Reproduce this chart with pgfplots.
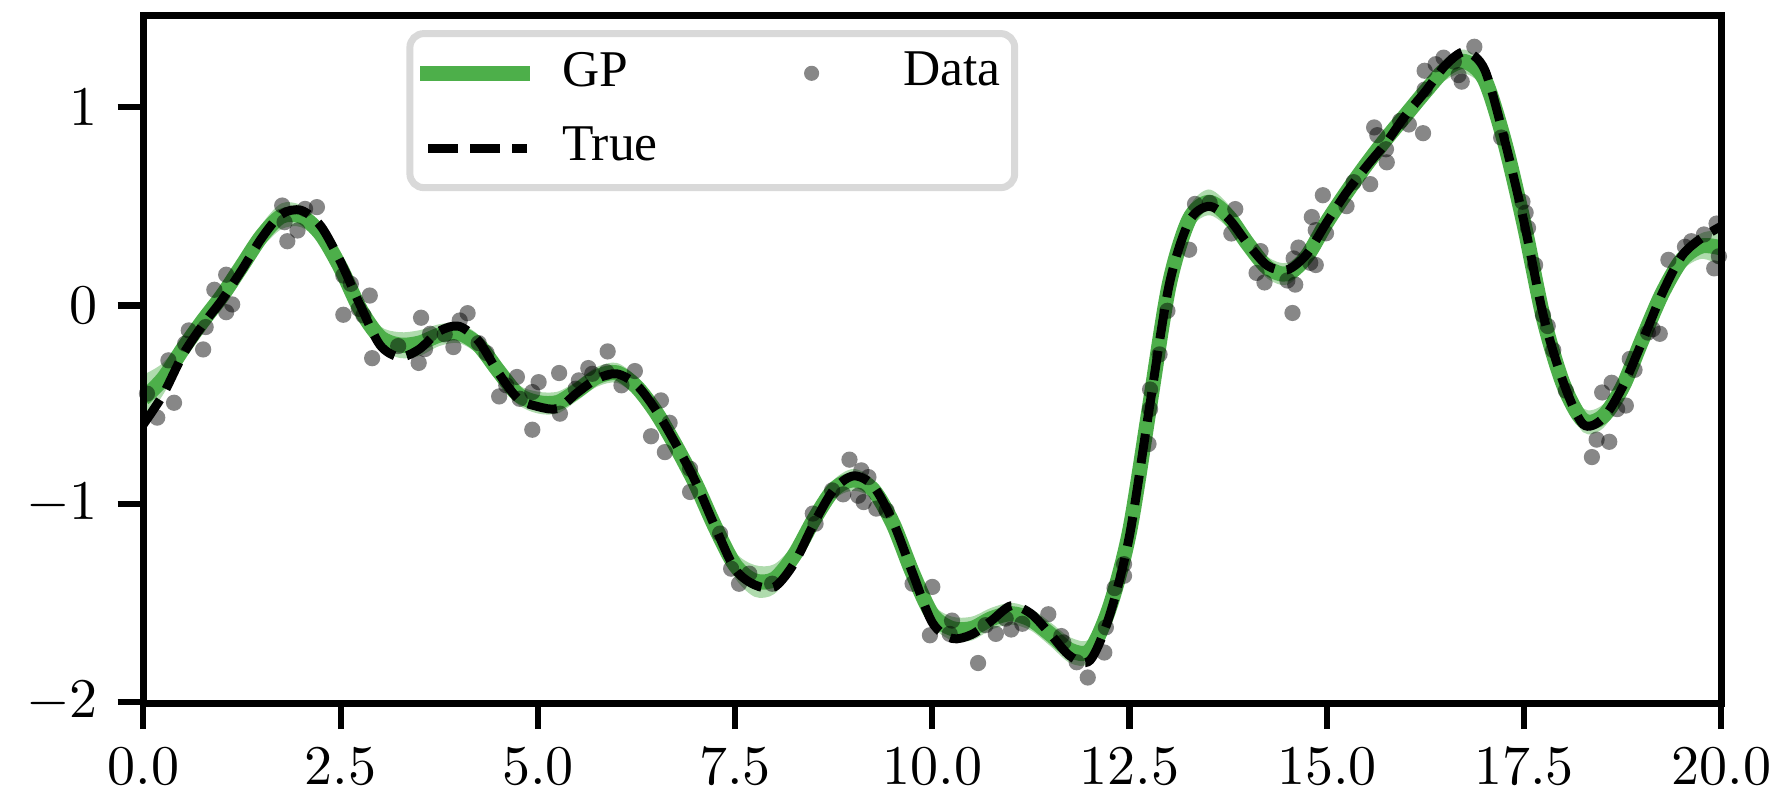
\documentclass[border=0pt]{standalone}
\usepackage{fontspec}
\newfontfamily\legendfont{Liberation Serif}
\usepackage{pgfplots}
\usepackage{pgfplotstable}
\pgfplotsset{compat=1.18}
\usepgfplotslibrary{fillbetween}
\usetikzlibrary{calc}
\definecolor{gpgreen}{HTML}{4DAF4A}
\definecolor{legendgray}{HTML}{D9D9D9}

\pgfplotsset{
  gplegend/.style={legend image code/.code={\draw[gpgreen, line width=2.7pt] (0pt,0pt) -- (19.6pt,0pt);}},
  truelegend/.style={legend image code/.code={\path[draw=none,fill=none] (0pt,0pt) -- (19.6pt,0pt);\draw[black, line width=1.6pt, dash pattern=on 5.3pt off 2.2pt] (1.4pt,0pt) -- (19pt,0pt);}},
  datalegend/.style={legend image code/.code={\path[draw=none,fill=none] (0pt,-1.4pt) rectangle (21.8pt,1.4pt);\fill[black, fill opacity=0.47, draw=none] (9.8pt,0pt) circle (1.35pt);}},
}

\pgfplotstableread{
x true gp up lo
0.00 -0.60 -0.47 -0.35 -0.59
0.25 -0.45 -0.37 -0.29 -0.45
0.50 -0.25 -0.22 -0.165 -0.275
0.75 -0.10 -0.08 -0.03 -0.13
1.00 0.03 0.05 0.10 0.00
1.25 0.18 0.20 0.25 0.15
1.50 0.34 0.35 0.41 0.29
1.75 0.46 0.45 0.515 0.385
2.00 0.48 0.45 0.505 0.395
2.25 0.40 0.36 0.41 0.31
2.50 0.22 0.19 0.24 0.14
2.75 0.00 -0.02 0.03 -0.07
3.00 -0.20 -0.16 -0.105 -0.215
3.25 -0.26 -0.20 -0.135 -0.265
3.50 -0.22 -0.19 -0.125 -0.255
3.75 -0.13 -0.15 -0.095 -0.205
4.00 -0.105 -0.14 -0.09 -0.19
4.25 -0.18 -0.20 -0.15 -0.25
4.50 -0.34 -0.33 -0.28 -0.38
4.75 -0.47 -0.45 -0.40 -0.50
5.00 -0.51 -0.49 -0.435 -0.545
5.25 -0.52 -0.49 -0.435 -0.545
5.50 -0.44 -0.43 -0.38 -0.48
5.75 -0.37 -0.36 -0.31 -0.41
6.00 -0.345 -0.34 -0.29 -0.39
6.25 -0.40 -0.41 -0.36 -0.46
6.50 -0.53 -0.54 -0.49 -0.59
6.75 -0.70 -0.71 -0.66 -0.76
7.00 -0.89 -0.90 -0.85 -0.95
7.25 -1.12 -1.12 -1.065 -1.175
7.50 -1.33 -1.31 -1.245 -1.375
7.75 -1.41 -1.39 -1.31 -1.47
8.00 -1.42 -1.38 -1.305 -1.455
8.25 -1.30 -1.26 -1.20 -1.32
8.50 -1.10 -1.08 -1.025 -1.135
8.75 -0.93 -0.93 -0.88 -0.98
9.00 -0.86 -0.88 -0.825 -0.935
9.25 -0.91 -0.93 -0.88 -0.98
9.50 -1.09 -1.10 -1.05 -1.15
9.75 -1.35 -1.35 -1.30 -1.40
10.00 -1.60 -1.56 -1.505 -1.615
10.25 -1.68 -1.63 -1.57 -1.69
10.50 -1.66 -1.63 -1.57 -1.69
10.75 -1.59 -1.58 -1.525 -1.635
11.00 -1.515 -1.555 -1.50 -1.61
11.25 -1.555 -1.585 -1.53 -1.64
11.50 -1.66 -1.66 -1.60 -1.72
11.75 -1.77 -1.74 -1.675 -1.805
12.00 -1.79 -1.74 -1.68 -1.80
12.25 -1.56 -1.52 -1.465 -1.575
12.50 -1.16 -1.14 -1.09 -1.19
12.75 -0.52 -0.52 -0.47 -0.57
13.00 0.10 0.10 0.15 0.05
13.25 0.42 0.43 0.49 0.37
13.50 0.50 0.52 0.585 0.455
13.75 0.44 0.45 0.51 0.39
14.00 0.31 0.31 0.365 0.255
14.25 0.20 0.19 0.245 0.135
14.50 0.18 0.16 0.215 0.105
14.75 0.26 0.25 0.30 0.20
15.00 0.42 0.42 0.47 0.37
15.25 0.57 0.57 0.62 0.52
15.50 0.70 0.71 0.76 0.66
15.75 0.82 0.84 0.89 0.79
16.00 0.96 0.96 1.01 0.91
16.25 1.08 1.08 1.13 1.03
16.50 1.21 1.19 1.245 1.135
16.75 1.28 1.23 1.29 1.17
17.00 1.19 1.14 1.195 1.085
17.25 0.84 0.83 0.88 0.78
17.50 0.42 0.41 0.46 0.36
17.75 -0.06 -0.07 -0.02 -0.12
18.00 -0.39 -0.40 -0.345 -0.455
18.25 -0.60 -0.58 -0.52 -0.64
18.50 -0.57 -0.56 -0.50 -0.62
18.75 -0.41 -0.41 -0.355 -0.465
19.00 -0.18 -0.17 -0.12 -0.22
19.25 0.06 0.06 0.11 0.01
19.50 0.25 0.23 0.285 0.175
19.75 0.34 0.30 0.365 0.235
20.00 0.40 0.29 0.38 0.20
}\gpdata

\pgfplotstableread{
x y
0.046 -0.445
0.176 -0.566
0.318 -0.277
0.389 -0.491
0.530 -0.193
0.576 -0.126
0.758 -0.222
0.790 -0.109
0.900 0.079
1.050 0.155
1.050 -0.034
1.126 0.005
1.760 0.504
1.790 0.420
1.825 0.324
1.954 0.378
2.050 0.487
2.200 0.496
2.535 0.151
2.535 -0.047
2.630 0.109
2.730 -0.017
2.790 -0.050
2.870 0.050
2.900 -0.266
3.230 -0.205
3.490 -0.290
3.520 -0.062
3.570 -0.220
3.635 -0.143
3.820 -0.146
3.930 -0.210
4.010 -0.076
4.110 -0.039
4.250 -0.190
4.350 -0.240
4.510 -0.459
4.600 -0.403
4.735 -0.361
4.770 -0.471
4.930 -0.437
4.930 -0.627
5.010 -0.387
5.270 -0.341
5.280 -0.546
5.480 -0.420
5.520 -0.378
5.640 -0.316
5.690 -0.345
5.870 -0.336
5.885 -0.232
6.060 -0.403
6.230 -0.331
6.435 -0.660
6.560 -0.479
6.610 -0.740
6.670 -0.592
6.930 -0.824
6.930 -0.941
7.310 -1.151
7.450 -1.328
7.550 -1.404
7.680 -1.353
7.970 -1.404
8.485 -1.050
8.520 -1.101
8.730 -0.933
8.870 -0.953
8.950 -0.778
9.060 -0.960
9.100 -0.832
9.130 -0.992
9.190 -0.866
9.290 -1.025
9.420 -1.034
9.750 -1.404
9.970 -1.664
10.000 -1.420
10.22 -1.657
10.25 -1.590
10.58 -1.804
10.675 -1.613
10.805 -1.657
10.93 -1.580
11.00 -1.635
11.14 -1.606
11.47 -1.558
11.635 -1.668
11.66 -1.700
11.83 -1.800
11.97 -1.877
12.18 -1.751
12.20 -1.624
12.31 -1.426
12.43 -1.305
12.43 -1.364
12.74 -0.699
12.76 -0.523
12.76 -0.424
12.88 -0.247
12.98 -0.027
13.255 0.281
13.33 0.512
13.515 0.517
13.79 0.363
13.84 0.486
14.11 0.164
14.16 0.274
14.21 0.116
14.50 0.126
14.565 -0.038
14.58 0.237
14.60 0.105
14.64 0.292
14.79 0.215
14.81 0.446
14.86 0.204
14.86 0.380
14.95 0.556
14.99 0.364
15.25 0.501
15.34 0.622
15.55 0.612
15.60 0.898
15.64 0.859
15.75 0.788
15.76 0.722
15.93 0.931
16.04 0.913
16.22 0.869
16.24 1.089
16.24 1.184
16.38 1.217
16.48 1.250
16.61 1.230
16.67 1.162
16.71 1.129
16.87 1.305
17.21 0.847
17.48 0.523
17.52 0.468
17.55 0.391
17.64 0.204
17.74 -0.049
17.80 -0.104
17.87 -0.225
18.03 -0.430
18.36 -0.765
18.42 -0.677
18.49 -0.439
18.58 -0.688
18.61 -0.390
18.68 -0.523
18.79 -0.505
18.84 -0.270
18.90 -0.325
19.07 -0.137
19.13 -0.120
19.22 -0.143
19.33 0.230
19.54 0.296
19.62 0.324
19.78 0.358
19.91 0.187
19.94 0.413
19.97 0.248
}\obsdata

\begin{document}
\begin{tikzpicture}
\begin{axis}[
  scale only axis,
  width=281.8pt, height=122.8pt,
  xmin=0, xmax=20, ymin=-2.007, ymax=1.462,
  axis on top,
  axis line style={line width=1.2pt},
  every tick/.style={black, line width=1.1pt},
  major tick length=4.6pt,
  tick align=outside,
  xtick={0,2.5,5,7.5,10,12.5,15,17.5,20},
  ytick={-2,-1,0,1},
  xtick pos=lower, ytick pos=left,
  minor tick num=0,
  x tick label style={/pgf/number format/.cd, fixed, fixed zerofill, precision=1, /tikz/.cd},
  legend columns=2,
  legend cell align=left,
  legend style={at={(0.1667,0.979)}, anchor=north west, draw=legendgray, line width=1.25pt,
    rounded corners=2.5pt, fill=white, font=\legendfont\fontsize{9.2}{10.5}\selectfont,
    inner xsep=0.5pt, inner ysep=1.3pt,
    /tikz/every odd column/.append style={column sep=2.4pt},
    /tikz/every even column/.append style={column sep=15.7pt}, row sep=1.8pt},
]
\addplot[draw=none, name path=U, smooth, forget plot] table[x=x,y=up]{\gpdata};
\addplot[draw=none, name path=L, smooth, forget plot] table[x=x,y=lo]{\gpdata};
\addplot[fill=gpgreen, fill opacity=0.45, draw=none, forget plot] fill between[of=U and L];
\addplot[gpgreen, line width=2.7pt, smooth, forget plot] table[x=x,y=gp]{\gpdata};
\addplot[black, line width=1.6pt, dash pattern=on 5.3pt off 2.2pt, smooth, forget plot] table[x=x,y=true]{\gpdata};
\addplot[only marks, mark=*, mark size=1.45pt, draw opacity=0, line width=0pt, mark options={draw opacity=0, line width=0pt, fill=black, fill opacity=0.47}, forget plot] table[x=x,y=y]{\obsdata};
\addlegendimage{gplegend}\addlegendentry{GP}
\addlegendimage{datalegend}\addlegendentry{Data}
\addlegendimage{truelegend}\addlegendentry{True}
\end{axis}
\pgfresetboundingbox
\path[use as bounding box] ($(current axis.south west)+(-25.6pt,-17.5pt)$) rectangle ($(current axis.north east)+(11.2pt,2.8pt)$);
\end{tikzpicture}
\end{document}
